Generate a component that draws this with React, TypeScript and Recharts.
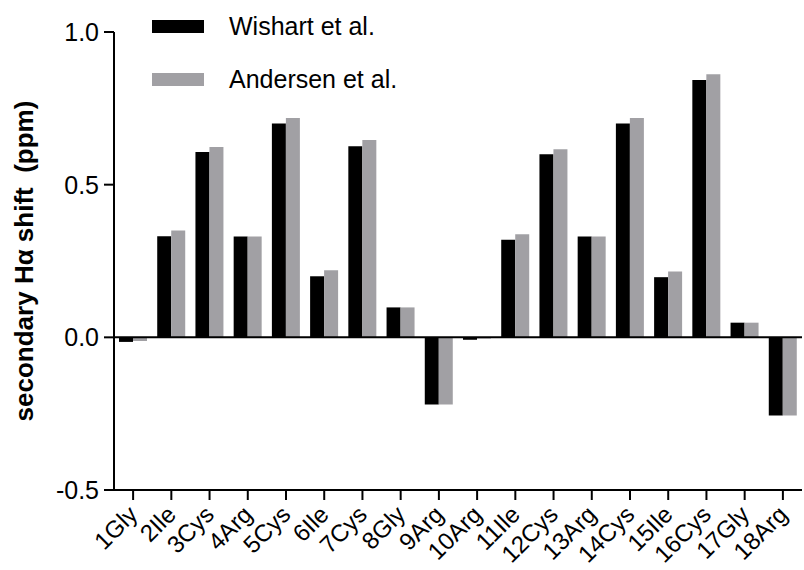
import { Bar, BarChart, ReferenceLine, XAxis, YAxis } from "recharts";

const residues = [
  "1Gly", "2Ile", "3Cys", "4Arg", "5Cys", "6Ile", "7Cys", "8Gly", "9Arg",
  "10Arg", "11Ile", "12Cys", "13Arg", "14Cys", "15Ile", "16Cys", "17Gly", "18Arg"
];
const wishart = [
  -0.015, 0.331, 0.607, 0.33, 0.70, 0.2, 0.626, 0.098, -0.22,
  -0.008, 0.32, 0.6, 0.33, 0.70, 0.197, 0.843, 0.048, -0.256
];
const andersen = [
  -0.012, 0.35, 0.623, 0.33, 0.718, 0.22, 0.646, 0.098, -0.22,
  -0.004, 0.338, 0.616, 0.33, 0.718, 0.216, 0.862, 0.048, -0.256
];
const yTicks = [-0.5, 0, 0.5, 1.0];
const seriesNames = ["Wishart et al.", "Andersen et al."];
const seriesColors = ["#000000", "#a1a0a4"];

const data = residues.map((name, i) => ({ name, wishart: wishart[i], andersen: andersen[i] }));

const font = "'Liberation Sans', Arial, sans-serif";

function XTick({ x, y, payload }: any) {
  const ax = x + 6;
  const ay = y + 14;
  return (
    <text
      x={ax}
      y={ay}
      transform={`rotate(-45, ${ax}, ${ay})`}
      textAnchor="end"
      fontSize={24}
      fontFamily={font}
      fill="#000"
    >
      {payload.value}
    </text>
  );
}

function YLabel({ viewBox }: any) {
  const cx = 24;
  const cy = viewBox.y + viewBox.height / 2;
  return (
    <text
      x={cx}
      y={cy}
      transform={`rotate(-90, ${cx}, ${cy})`}
      textAnchor="middle"
      dominantBaseline="central"
      fontSize={26}
      fontWeight="bold"
      fontFamily={font}
      fill="#000"
      style={{ whiteSpace: "pre" }}
    >
      secondary Hα shift  (ppm)
    </text>
  );
}

export default function App() {
  return (
    <div style={{ position: "absolute", left: 0, top: 0, width: 804, height: 570, background: "#fff" }}>
      <BarChart
        width={804}
        height={570}
        data={data}
        margin={{ top: 32, right: 2, left: 0, bottom: 0 }}
        barGap={0}
        barCategoryGap={5}
      >
        <XAxis
          dataKey="name"
          interval={0}
          height={80}
          tick={<XTick />}
          tickSize={10}
          axisLine={{ stroke: "#000", strokeWidth: 2 }}
          tickLine={{ stroke: "#000", strokeWidth: 2 }}
        />
        <YAxis
          domain={[-0.5, 1.0]}
          ticks={yTicks}
          width={114}
          tickSize={10}
          tickMargin={5}
          tickFormatter={(v: number) => v.toFixed(1)}
          tick={{ fontSize: 25, fill: "#000", fontFamily: font }}
          axisLine={{ stroke: "#000", strokeWidth: 2 }}
          tickLine={{ stroke: "#000", strokeWidth: 2 }}
          label={<YLabel />}
        />
        <ReferenceLine y={0} stroke="#000" strokeWidth={2} />
        <Bar dataKey="wishart" fill={seriesColors[0]} isAnimationActive={false} />
        <Bar dataKey="andersen" fill={seriesColors[1]} isAnimationActive={false} />
      </BarChart>
      <div style={{ position: "absolute", left: 152, top: 0, fontFamily: font }}>
        {seriesNames.map((label, i) => (
          <div key={label} style={{ display: "flex", alignItems: "center", height: 53 }}>
            <div style={{ width: 52, height: 13, background: seriesColors[i], marginRight: 25 }} />
            <span style={{ fontSize: 25, color: "#000" }}>{label}</span>
          </div>
        ))}
      </div>
    </div>
  );
}
